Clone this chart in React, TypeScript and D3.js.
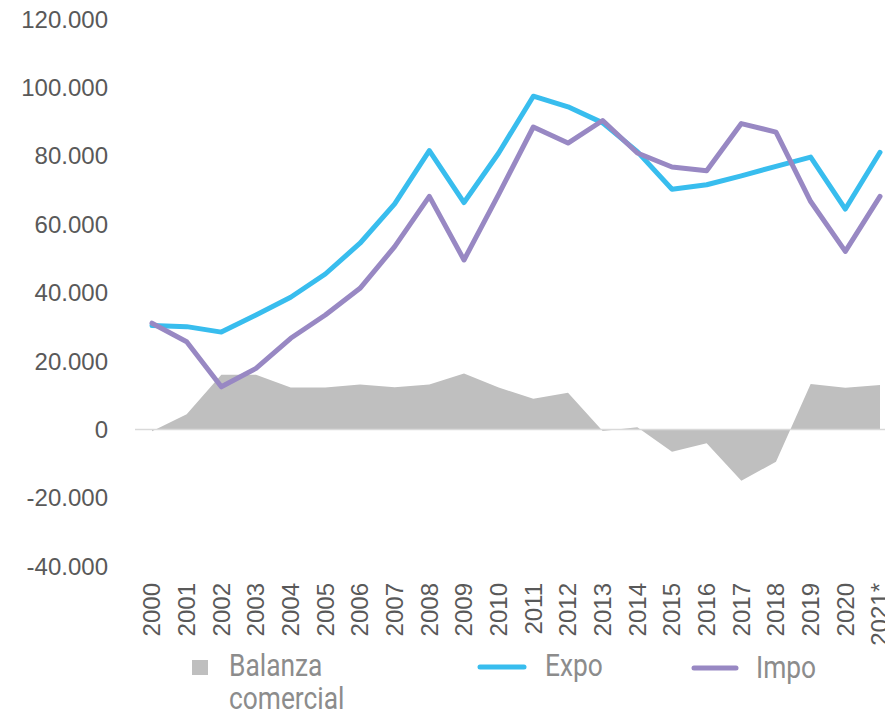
import React from "react";
import * as d3 from "d3";

const years = ["2000","2001","2002","2003","2004","2005","2006","2007","2008","2009","2010","2011","2012","2013","2014","2015","2016","2017","2018","2019","2020","2021*"];
const expo = [30400,30100,28500,33500,38700,45500,54500,66000,81600,66400,80900,97500,94400,89700,81300,70300,71600,74200,77000,79700,64500,81100];
const impo = [31100,25700,12500,17900,26700,33500,41300,53500,68200,49600,68800,88500,83800,90400,80900,76800,75700,89500,87000,66700,52100,68200];
const balanza = [-500,4500,16000,16000,12300,12300,13200,12400,13200,16400,12300,9000,10800,-400,650,-6500,-4000,-15000,-9400,13300,12200,13000];
const yTicks = [-40000,-20000,0,20000,40000,60000,80000,100000,120000];

const W = 885, H = 723;
const fmt = (v: number) => {
  const s = Math.abs(v).toString().replace(/\B(?=(\d{3})+(?!\d))/g, ".");
  return (v < 0 ? "-" : "") + s;
};

export default function App() {
  const x = d3.scalePoint<string>().domain(years).range([152, 880]);
  const y = d3.scaleLinear().domain([-40000, 120000]).range([566.3, 19.3]);
  const line = d3.line<number>().x((_, i) => x(years[i])!).y(d => y(d));
  const area = d3.area<number>().x((_, i) => x(years[i])!).y0(y(0)).y1(d => y(d));
  const axisFont = "'Liberation Sans', Arial, sans-serif";
  return (
    <div style={{ position: "absolute", left: 0, top: 0, width: W, height: H, background: "#fff" }}>
      <svg width={W} height={H}>
        <path d={area(balanza)!} fill="#BFBFBF" />
        <line x1={135} x2={885} y1={y(0)} y2={y(0)} stroke="#D9D9D9" strokeWidth={1.5} />
        <path d={line(expo)!} fill="none" stroke="#38BDEE" strokeWidth={5} strokeLinejoin="round" strokeLinecap="round" />
        <path d={line(impo)!} fill="none" stroke="#9888C3" strokeWidth={5} strokeLinejoin="round" strokeLinecap="round" />
        {yTicks.map(t => (
          <text key={t} x={108} y={y(t)} dy="0.35em" textAnchor="end" fontFamily={axisFont} fontSize={24} fill="#595959">{fmt(t)}</text>
        ))}
        {years.map(yr => (
          <text key={yr} transform={`translate(${x(yr)},583) rotate(-90)`} dy="0.35em" textAnchor="end" fontFamily={axisFont} fontSize={24} fill="#595959">{yr}</text>
        ))}
        <g fontFamily="Roboto, sans-serif" fontSize={31} fill="#8C8C8C">
          <rect x={192} y={660} width={16} height={15} fill="#BFBFBF" />
          <text transform="translate(229,676) scale(0.85,1)">Balanza</text>
          <text transform="translate(229,709) scale(0.85,1)">comercial</text>
          <line x1={480} x2={524} y1={667} y2={667} stroke="#38BDEE" strokeWidth={5} strokeLinecap="round" />
          <text transform="translate(545,676) scale(0.85,1)">Expo</text>
          <line x1={694} x2={736} y1={668} y2={668} stroke="#9888C3" strokeWidth={5} strokeLinecap="round" />
          <text transform="translate(756,678) scale(0.85,1)">Impo</text>
        </g>
      </svg>
    </div>
  );
}
